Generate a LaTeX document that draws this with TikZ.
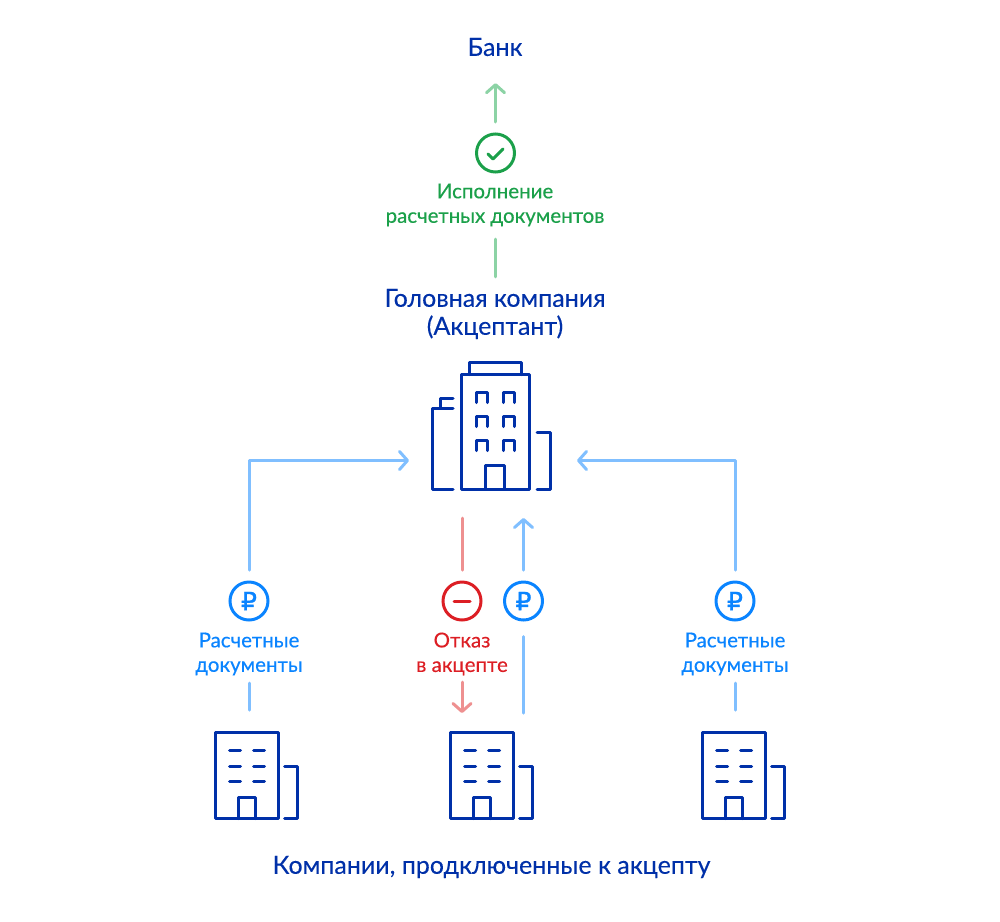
\documentclass[tikz,border=0pt]{standalone}
\usepackage{fontspec}
\setmainfont[FakeBold=0.15]{Lato}
\newfontfamily\subfont[FakeBold=0.35]{Lato}
\newfontfamily\rubfont[FakeBold=1.2]{DejaVu Sans}
\usetikzlibrary{arrows.meta}
\definecolor{navy}{HTML}{0030A8}
\definecolor{bluemain}{HTML}{0A84FF}
\definecolor{bluelight}{HTML}{80BFFF}
\definecolor{redmain}{HTML}{DC1E24}
\definecolor{redlight}{HTML}{EE9090}
\definecolor{greenmain}{HTML}{1BA04A}
\definecolor{greenlight}{HTML}{8CD3A5}
\tikzset{
  x=1pt,y=-1pt,
  main label/.style={text=navy,font=\fontsize{25}{28}\selectfont,align=center,inner sep=0pt},
  sub label/.style={font=\subfont\fontsize{20.5}{24.5}\selectfont,align=center,inner sep=0pt,minimum height=56pt},
  round icon/.style={circle,draw=#1,text=#1,line width=3pt,minimum size=38pt,inner sep=0pt,outer sep=1.5pt},
  rub/.style={font=\rubfont\fontsize{25}{25}\selectfont},
  building line/.style={draw=navy,line width=3pt,line cap=round,line join=round},
  ghost/.style={inner sep=0pt,outer sep=0pt,minimum width=#1},
  link/.style={line width=3pt,line cap=round,line join=round},
  chevron/.style={-{Straight Barb[length=8pt,width=18pt,line width=3pt,round]}},
  small building/.pic={
    \draw[building line] (0,0) rectangle (62.5,86);
    \draw[building line] (22.5,86) -- (22.5,64.5) -- (39.5,64.5) -- (39.5,86);
    \foreach \yy in {18,33.5,48.5}{
      \draw[building line] (14,\yy) -- (25,\yy);
      \draw[building line] (38,\yy) -- (49,\yy);
    }
    \draw[building line] (69,34) -- (81.5,34) -- (81.5,86) -- (69,86);
  }
}
\begin{document}
\begin{tikzpicture}
\useasboundingbox (0,0) rectangle (1000,921);
% labels
\node[main label,minimum height=24pt] (bank) at (495,47) {Банк};
\node[sub label,text=greenmain] (exec) at (495,205) {Исполнение\\расчетных документов};
\node[main label,minimum height=60pt] (head) at (495,314) {Головная компания\\(Акцептант)};
\node[sub label,text=bluemain] (docsL) at (249,654) {Расчетные\\документы};
\node[sub label,text=redmain] (reject) at (462,654) {Отказ\\в акцепте};
\node[sub label,text=bluemain] (docsR) at (735,654) {Расчетные\\документы};
\node[main label] (companies) at (491.5,867) {Компании, продключенные к акцепту};
% round icons
\node[round icon=greenmain] (check) at (495.5,153) {};
\draw[greenmain,line width=3pt,line cap=round,line join=round] (488,154) -- (493,159) -- (503,149);
\node[round icon=bluemain,rub] (rubL) at (249,601) {₽};
\node[round icon=redmain] (minus) at (462,601) {};
\draw[redmain,line width=3pt,line cap=round] (454,601) -- (470,601);
\node[round icon=bluemain,rub] (rubM) at (523.5,601) {₽};
\node[round icon=bluemain,rub] (rubR) at (735,601) {₽};
% building frames
\node[ghost=119pt,minimum height=127pt] (big) at (491.5,425.5) {};
\node[ghost=82.5pt,minimum height=86.5pt] (compL) at (256.25,775.25) {};
\node[ghost=82.5pt,minimum height=86.5pt] (compM) at (491.25,775.25) {};
\node[ghost=82.5pt,minimum height=86.5pt] (compR) at (743.25,775.25) {};
% big building
\draw[building line] (461,374.5) rectangle (529,489);
\draw[building line] (469,374.5) -- (469,362.5) -- (521,362.5) -- (521,374.5);
\draw[building line] (485.7,489) -- (485.7,465.5) -- (504,465.5) -- (504,489);
\foreach \xx in {476.5,503.5}{
  \foreach \yy in {392.5,416.5,440.5}{
    \draw[building line] (\xx,\yy+10) -- (\xx,\yy) -- (\xx+11,\yy) -- (\xx+11,\yy+10);
  }
}
\draw[building line] (453,408) -- (432.5,408) -- (432.5,489) -- (453,489);
\draw[building line] (453,398) -- (440,398) -- (440,408);
\draw[building line] (537,432) -- (550.5,432) -- (550.5,489) -- (537,489);
% small buildings
\pic at (215.5,732.5) {small building};
\pic at (450.5,732.5) {small building};
\pic at (702.5,732.5) {small building};
% connectors
\draw[link,chevron,greenlight,shorten <=10.5pt,shorten >=24pt] (check.north) -- (check.north |- bank.south);
\draw[link,greenlight,shorten <=6pt,shorten >=7pt] (exec.south) -- (exec.south |- head.north);
\draw[link,chevron,bluelight,shorten <=10.5pt,shorten >=23pt] (rubL.north) |- ([yshift=-35pt]big.west);
\draw[link,chevron,bluelight,shorten <=10.5pt,shorten >=26pt] (rubR.north) |- ([yshift=-35pt]big.east);
\draw[link,chevron,bluelight,shorten <=10.5pt,shorten >=29pt] (rubM.north) -- (rubM.north |- big.south);
\draw[link,bluelight,shorten <=15pt,shorten >=19pt] (rubM.south) -- (rubM.south |- compM.north);
\draw[link,redlight,shorten <=10.5pt,shorten >=29pt] (minus.north) -- (minus.north |- big.south);
\draw[link,chevron,redlight,shorten >=19pt] (reject.south) -- (reject.south |- compM.north);
\draw[link,bluelight,shorten <=1pt,shorten >=22pt] (docsL.south) -- (docsL.south |- compL.north);
\draw[link,bluelight,shorten <=1pt,shorten >=22pt] (docsR.south) -- (docsR.south |- compR.north);
\end{tikzpicture}
\end{document}
